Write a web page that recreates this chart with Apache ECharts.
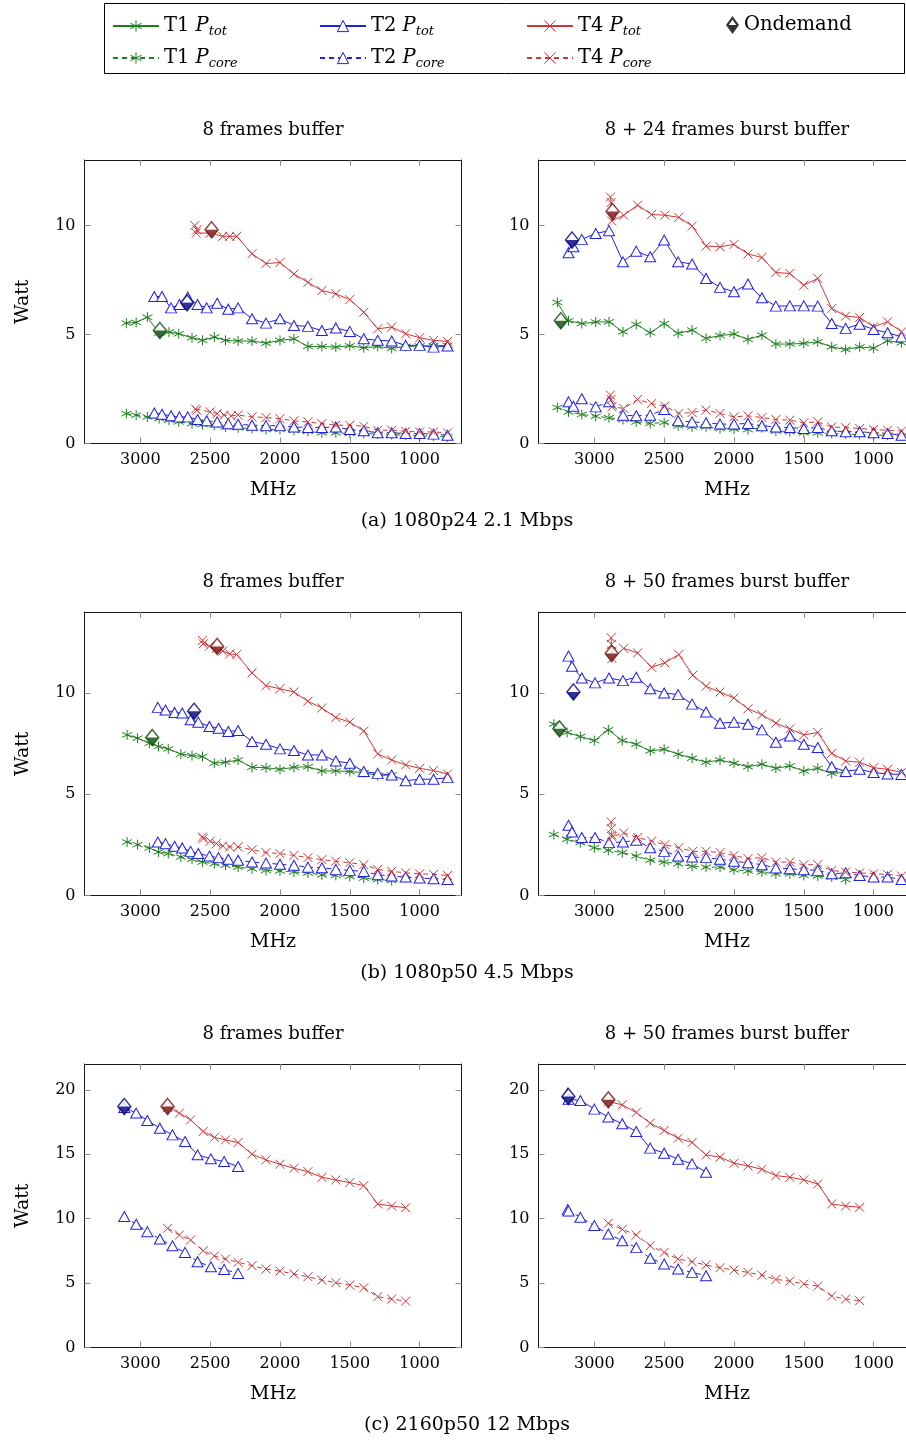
<!DOCTYPE html>
<html>
<head>
<meta charset="utf-8">
<script src="https://cdn.jsdelivr.net/npm/echarts@6/dist/echarts.min.js"></script>
<style>
  html, body { margin: 0; padding: 0; background: #fff; }
  #chart { width: 906px; height: 1441px; }
</style>
</head>
<body>
<div id="chart"></div>
<script>
// ---------- tick values ----------
const xTicks = [1000, 1500, 2000, 2500, 3000];
const yTicksA = [0, 5, 10];
const yTicksC = [0, 5, 10, 15, 20];

// ---------- (a) 1080p24 2.1 Mbps, 8 frames buffer ----------
const a1_t1Tot = [[3100,5.52],[3030,5.55],[2950,5.79],[2865,5.06],[2795,5.11],[2725,5.03],[2630,4.85],[2555,4.73],[2470,4.88],[2390,4.73],[2300,4.70],[2200,4.70],[2100,4.60],[2000,4.73],[1900,4.80],[1800,4.45],[1700,4.45],[1600,4.42],[1500,4.48],[1400,4.39],[1300,4.45],[1200,4.36],[1100,4.45],[1000,4.47],[900,4.48],[800,4.50]];
const a1_t1Core = [[3100,1.37],[3030,1.30],[2950,1.22],[2865,1.14],[2795,1.07],[2725,0.99],[2630,0.91],[2555,0.87],[2470,0.84],[2390,0.76],[2300,0.72],[2200,0.69],[2100,0.64],[2000,0.64],[1900,0.61],[1800,0.56],[1700,0.49],[1600,0.49],[1500,0.46],[1400,0.46],[1300,0.43],[1200,0.41],[1100,0.38],[1000,0.35],[900,0.34],[800,0.30]];
const a1_t2Tot = [[2900,6.74],[2845,6.74],[2780,6.22],[2720,6.37],[2660,6.71],[2590,6.37],[2525,6.22],[2450,6.43],[2370,6.16],[2300,6.22],[2200,5.72],[2100,5.52],[2000,5.72],[1900,5.41],[1800,5.37],[1700,5.18],[1600,5.30],[1500,5.14],[1400,4.80],[1300,4.73],[1200,4.70],[1100,4.50],[1000,4.50],[900,4.42],[800,4.47]];
const a1_t2Core = [[2900,1.40],[2845,1.34],[2780,1.27],[2720,1.22],[2660,1.22],[2590,1.10],[2525,1.04],[2450,0.99],[2370,0.91],[2300,0.88],[2200,0.84],[2100,0.82],[2000,0.82],[1900,0.76],[1800,0.73],[1700,0.73],[1600,0.76],[1500,0.64],[1400,0.58],[1300,0.49],[1200,0.49],[1100,0.46],[1000,0.46],[900,0.43],[800,0.38]];
const a1_t4Tot = [[2610,10.0],[2595,9.8],[2600,9.65],[2500,9.65],[2410,9.5],[2360,9.5],[2310,9.5],[2200,8.7],[2100,8.25],[2000,8.3],[1900,7.77],[1800,7.39],[1700,7.01],[1600,6.86],[1500,6.60],[1400,6.02],[1300,5.26],[1200,5.34],[1100,5.03],[1000,4.85],[900,4.73],[800,4.68]];
const a1_t4Core = [[2605,1.58],[2595,1.52],[2500,1.45],[2450,1.37],[2400,1.30],[2350,1.27],[2300,1.30],[2200,1.22],[2100,1.19],[2000,1.14],[1900,1.04],[1800,0.99],[1700,0.91],[1600,0.84],[1500,0.84],[1400,0.79],[1300,0.61],[1200,0.61],[1100,0.56],[1000,0.53],[900,0.53],[800,0.49]];
const a1_ondemand = { T1: [2860,5.18], T2: [2665,6.45], T4: [2490,9.8] };

// ---------- (a) 1080p24 2.1 Mbps, 8 + 24 frames burst buffer ----------
const a2_t1Tot = [[3265,6.47],[3185,5.63],[3090,5.50],[2990,5.57],[2895,5.58],[2795,5.12],[2700,5.46],[2600,5.08],[2500,5.50],[2400,5.05],[2300,5.20],[2200,4.82],[2100,4.95],[2000,5.02],[1900,4.77],[1800,4.97],[1700,4.56],[1600,4.56],[1500,4.59],[1400,4.66],[1300,4.43],[1200,4.31],[1100,4.43],[1000,4.37],[900,4.71],[800,4.62]];
const a2_t1Core = [[3265,1.65],[3185,1.45],[3090,1.33],[2990,1.25],[2895,1.18],[2795,1.10],[2700,0.99],[2600,0.92],[2500,0.96],[2400,0.81],[2300,0.76],[2200,0.76],[2100,0.69],[2000,0.66],[1900,0.64],[1800,0.73],[1700,0.57],[1600,0.54],[1500,0.49],[1400,0.49],[1300,0.46],[1200,0.43],[1100,0.41],[1000,0.38],[900,0.38],[800,0.34]];
const a2_t2Tot = [[3185,8.75],[3150,9.02],[3090,9.36],[2990,9.63],[2895,9.76],[2795,8.33],[2700,8.82],[2600,8.56],[2500,9.33],[2400,8.33],[2300,8.23],[2200,7.57],[2100,7.16],[2000,6.96],[1900,7.31],[1800,6.68],[1700,6.30],[1600,6.31],[1500,6.31],[1400,6.30],[1300,5.50],[1200,5.28],[1100,5.47],[1000,5.23],[900,5.08],[800,4.89]];
const a2_t2Core = [[3185,1.91],[3150,1.71],[3090,2.05],[2990,1.68],[2895,1.91],[2795,1.30],[2700,1.27],[2600,1.30],[2500,1.56],[2400,1.04],[2300,0.99],[2200,0.95],[2100,0.89],[2000,0.89],[1900,0.92],[1800,0.81],[1700,0.76],[1600,0.73],[1500,0.69],[1400,0.73],[1300,0.58],[1200,0.54],[1100,0.54],[1000,0.49],[900,0.46],[800,0.38]];
const a2_t4Tot = [[2885,11.3],[2880,11.05],[2875,10.2],[2790,10.47],[2690,10.93],[2590,10.50],[2495,10.47],[2395,10.37],[2300,9.97],[2200,9.05],[2100,9.02],[2000,9.13],[1900,8.69],[1800,8.53],[1700,7.84],[1600,7.80],[1500,7.26],[1400,7.57],[1300,6.19],[1200,5.84],[1100,5.78],[1000,5.35],[900,5.58],[800,5.12]];
const a2_t4Core = [[2885,2.22],[2880,2.02],[2875,1.68],[2790,1.61],[2690,2.02],[2590,1.83],[2495,1.71],[2395,1.38],[2300,1.42],[2200,1.53],[2100,1.38],[2000,1.22],[1900,1.27],[1800,1.19],[1700,1.10],[1600,1.07],[1500,0.95],[1400,0.99],[1300,0.76],[1200,0.73],[1100,0.69],[1000,0.64],[900,0.61],[800,0.57]];
const a2_ondemand = { T1: [3240,5.63], T2: [3160,9.33], T4: [2870,10.64] };

// ---------- (b) 1080p50 4.5 Mbps, 8 frames buffer ----------
const b1_t1Tot = [[3095,7.93],[3020,7.77],[2935,7.52],[2870,7.36],[2800,7.24],[2710,6.98],[2630,6.91],[2555,6.86],[2470,6.53],[2390,6.58],[2300,6.69],[2200,6.33],[2100,6.31],[2000,6.23],[1900,6.33],[1800,6.36],[1700,6.15],[1600,6.15],[1500,6.12],[1400,6.07],[1300,5.92],[1200,5.95]];
const b1_t1Core = [[3095,2.64],[3020,2.51],[2935,2.35],[2870,2.15],[2800,2.07],[2710,1.90],[2630,1.79],[2555,1.65],[2470,1.57],[2390,1.49],[2300,1.40],[2200,1.32],[2100,1.24],[2000,1.21],[1900,1.16],[1800,1.11],[1700,1.02],[1600,0.99],[1500,0.94],[1400,0.86],[1300,0.79],[1200,0.74]];
const b1_t2Tot = [[2875,9.29],[2820,9.16],[2755,9.04],[2700,9.01],[2640,8.68],[2585,8.56],[2505,8.35],[2440,8.26],[2370,8.10],[2300,8.15],[2200,7.60],[2100,7.47],[2000,7.24],[1900,7.16],[1800,6.94],[1700,6.94],[1600,6.64],[1500,6.53],[1400,6.12],[1300,6.03],[1200,5.95],[1100,5.67],[1000,5.74],[900,5.74],[800,5.82]];
const b1_t2Core = [[2875,2.64],[2820,2.56],[2755,2.43],[2700,2.35],[2640,2.18],[2585,2.07],[2505,1.95],[2440,1.87],[2370,1.79],[2300,1.74],[2200,1.65],[2100,1.60],[2000,1.54],[1900,1.49],[1800,1.40],[1700,1.37],[1600,1.29],[1500,1.24],[1400,1.19],[1300,1.02],[1200,0.96],[1100,0.91],[1000,0.86],[900,0.83],[800,0.79]];
const b1_t4Tot = [[2555,12.6],[2550,12.43],[2505,12.31],[2455,12.2],[2410,12.07],[2360,11.93],[2310,11.9],[2200,10.99],[2100,10.36],[2000,10.21],[1900,10.05],[1800,9.59],[1700,9.26],[1600,8.79],[1500,8.56],[1400,8.13],[1300,6.99],[1200,6.69],[1100,6.45],[1000,6.28],[900,6.17],[800,6.0]];
const b1_t4Core = [[2555,2.89],[2550,2.81],[2500,2.68],[2455,2.56],[2410,2.45],[2360,2.40],[2300,2.40],[2200,2.26],[2100,2.12],[2000,2.07],[1900,1.98],[1800,1.87],[1700,1.77],[1600,1.69],[1500,1.62],[1400,1.52],[1300,1.29],[1200,1.19],[1100,1.12],[1000,1.07],[900,1.04],[800,0.99]];
const b1_ondemand = { T1: [2915,7.8], T2: [2615,9.1], T4: [2450,12.3] };

// ---------- (b) 1080p50 4.5 Mbps, 8 + 50 frames burst buffer ----------
const b2_t1Tot = [[3290,8.46],[3195,8.05],[3100,7.85],[3000,7.65],[2900,8.18],[2800,7.65],[2700,7.47],[2600,7.14],[2500,7.22],[2400,6.98],[2300,6.78],[2200,6.58],[2100,6.69],[2000,6.53],[1900,6.36],[1800,6.48],[1700,6.28],[1600,6.40],[1500,6.15],[1400,6.28],[1300,6.03],[1200,6.08]];
const b2_t1Core = [[3290,3.01],[3195,2.78],[3100,2.61],[3000,2.36],[2900,2.23],[2800,2.12],[2700,1.95],[2600,1.74],[2500,1.65],[2400,1.57],[2300,1.44],[2200,1.40],[2100,1.40],[2000,1.27],[1900,1.21],[1800,1.16],[1700,1.07],[1600,1.07],[1500,0.99],[1400,0.96],[1300,0.91],[1200,0.79]];
const b2_t2Tot = [[3185,11.82],[3160,11.32],[3090,10.74],[2995,10.50],[2895,10.74],[2795,10.61],[2700,10.78],[2600,10.21],[2500,10.0],[2400,9.92],[2300,9.45],[2200,9.06],[2100,8.51],[2000,8.56],[1900,8.46],[1800,8.18],[1700,7.57],[1600,7.88],[1500,7.47],[1400,7.31],[1300,6.36],[1200,6.12],[1100,6.23],[1000,6.07],[900,6.0],[800,5.98]];
const b2_t2Core = [[3185,3.47],[3160,3.14],[3090,2.86],[2995,2.86],[2895,2.61],[2795,2.64],[2700,2.73],[2600,2.36],[2500,2.18],[2400,1.95],[2300,1.90],[2200,1.87],[2100,1.79],[2000,1.69],[1900,1.62],[1800,1.52],[1700,1.36],[1600,1.32],[1500,1.27],[1400,1.24],[1300,1.07],[1200,1.12],[1100,0.99],[1000,0.91],[900,0.91],[800,0.79]];
const b2_t4Tot = [[2880,12.73],[2878,12.4],[2876,12.07],[2874,11.7],[2790,12.2],[2690,11.98],[2590,11.27],[2495,11.49],[2395,11.90],[2295,10.88],[2200,10.33],[2100,10.05],[2000,9.75],[1900,9.22],[1800,8.93],[1700,8.51],[1600,8.23],[1500,7.93],[1400,8.05],[1300,7.02],[1200,6.64],[1100,6.58],[1000,6.31],[900,6.23],[800,6.08]];
const b2_t4Core = [[2880,3.64],[2878,3.30],[2876,3.0],[2874,2.9],[2790,3.09],[2690,2.86],[2590,2.69],[2495,2.51],[2395,2.36],[2295,2.18],[2200,2.18],[2100,2.12],[2000,1.98],[1900,1.82],[1800,1.87],[1700,1.65],[1600,1.65],[1500,1.52],[1400,1.52],[1300,1.24],[1200,1.16],[1100,1.12],[1000,1.07],[900,1.04],[800,0.96]];
const b2_ondemand = { T1: [3250,8.23], T2: [3150,10.05], T4: [2876,11.95] };

// ---------- (c) 2160p50 12 Mbps, 8 frames buffer ----------
const c1_t2Tot = [[3115,18.63],[3030,18.19],[2950,17.62],[2860,17.02],[2770,16.50],[2680,15.98],[2590,14.95],[2495,14.64],[2400,14.43],[2300,14.04]];
const c1_t2Core = [[3115,10.16],[3030,9.56],[2950,8.99],[2860,8.42],[2770,7.90],[2680,7.38],[2590,6.66],[2495,6.27],[2400,6.06],[2300,5.75]];
const c1_t4Tot = [[2805,18.63],[2720,18.19],[2640,17.67],[2550,16.76],[2470,16.30],[2390,16.11],[2300,15.91],[2200,15.0],[2100,14.56],[2000,14.22],[1900,13.91],[1800,13.65],[1700,13.21],[1600,13.0],[1500,12.80],[1400,12.56],[1300,11.14],[1200,10.98],[1100,10.85]];
const c1_t4Core = [[2805,9.25],[2720,8.73],[2640,8.34],[2550,7.51],[2470,7.10],[2390,6.87],[2300,6.61],[2200,6.35],[2100,6.09],[2000,5.93],[1900,5.70],[1800,5.49],[1700,5.23],[1600,5.03],[1500,4.84],[1400,4.64],[1300,3.94],[1200,3.76],[1100,3.60]];
const c1_ondemand = { T2: [3115,18.7], T4: [2805,18.7] };

// ---------- (c) 2160p50 12 Mbps, 8 + 50 frames burst buffer ----------
const c2_t2Tot = [[3190,19.74],[3185,19.27],[3100,19.17],[3000,18.50],[2900,17.88],[2800,17.36],[2700,16.76],[2600,15.47],[2500,15.08],[2400,14.61],[2300,14.25],[2200,13.60]];
const c2_t2Core = [[3190,10.7],[3185,10.6],[3100,10.10],[3000,9.46],[2900,8.81],[2800,8.29],[2700,7.75],[2600,6.92],[2500,6.48],[2400,6.09],[2300,5.83],[2200,5.57]];
const c2_t4Tot = [[2900,19.09],[2800,18.83],[2700,18.24],[2600,17.41],[2500,16.84],[2400,16.24],[2300,15.91],[2200,14.95],[2100,14.77],[2000,14.30],[1900,14.09],[1800,13.83],[1700,13.34],[1600,13.21],[1500,13.01],[1400,12.69],[1300,11.14],[1200,10.98],[1100,10.88]];
const c2_t4Core = [[2900,9.64],[2800,9.17],[2700,8.73],[2600,7.90],[2500,7.38],[2400,6.87],[2300,6.66],[2200,6.40],[2100,6.19],[2000,6.01],[1900,5.83],[1800,5.62],[1700,5.28],[1600,5.16],[1500,4.92],[1400,4.77],[1300,3.99],[1200,3.76],[1100,3.63]];
const c2_ondemand = { T2: [3186,19.48], T4: [2900,19.22] };

// ---------- panel definitions ----------
const panels = [
  { title: '8 frames buffer',            col: 0, row: 0, yMax: 13, yTicks: yTicksA,
    lines: { 'T1 Ptot': a1_t1Tot, 'T1 Pcore': a1_t1Core, 'T2 Ptot': a1_t2Tot, 'T2 Pcore': a1_t2Core, 'T4 Ptot': a1_t4Tot, 'T4 Pcore': a1_t4Core }, ondemand: a1_ondemand },
  { title: '8 + 24 frames burst buffer', col: 1, row: 0, yMax: 13, yTicks: yTicksA,
    lines: { 'T1 Ptot': a2_t1Tot, 'T1 Pcore': a2_t1Core, 'T2 Ptot': a2_t2Tot, 'T2 Pcore': a2_t2Core, 'T4 Ptot': a2_t4Tot, 'T4 Pcore': a2_t4Core }, ondemand: a2_ondemand },
  { title: '8 frames buffer',            col: 0, row: 1, yMax: 14, yTicks: yTicksA,
    lines: { 'T1 Ptot': b1_t1Tot, 'T1 Pcore': b1_t1Core, 'T2 Ptot': b1_t2Tot, 'T2 Pcore': b1_t2Core, 'T4 Ptot': b1_t4Tot, 'T4 Pcore': b1_t4Core }, ondemand: b1_ondemand },
  { title: '8 + 50 frames burst buffer', col: 1, row: 1, yMax: 14, yTicks: yTicksA,
    lines: { 'T1 Ptot': b2_t1Tot, 'T1 Pcore': b2_t1Core, 'T2 Ptot': b2_t2Tot, 'T2 Pcore': b2_t2Core, 'T4 Ptot': b2_t4Tot, 'T4 Pcore': b2_t4Core }, ondemand: b2_ondemand },
  { title: '8 frames buffer',            col: 0, row: 2, yMax: 22, yTicks: yTicksC,
    lines: { 'T2 Ptot': c1_t2Tot, 'T2 Pcore': c1_t2Core, 'T4 Ptot': c1_t4Tot, 'T4 Pcore': c1_t4Core }, ondemand: c1_ondemand },
  { title: '8 + 50 frames burst buffer', col: 1, row: 2, yMax: 22, yTicks: yTicksC,
    lines: { 'T2 Ptot': c2_t2Tot, 'T2 Pcore': c2_t2Core, 'T4 Ptot': c2_t4Tot, 'T4 Pcore': c2_t4Core }, ondemand: c2_ondemand }
];
const captions = ['(a) 1080p24 2.1 Mbps', '(b) 1080p50 4.5 Mbps', '(c) 2160p50 12 Mbps'];

// ---------- geometry & styles ----------
const FONT = 'DejaVu Serif';
const colLeft = [84.5, 538.5];
const rowTop = [160, 612, 1064];
const PW = 377, PH = 283.5;

const GREEN = '#1f7f1f', BLUE = '#2020e6', RED = '#cc3838';
const DARK = { T1: '#0a4a0a', T2: '#00007a', T4: '#761010' };
const ASTERISK = 'path://M5,0L5,10M0.67,2.5L9.33,7.5M0.67,7.5L9.33,2.5';
const CROSS = 'path://M0,0L10,10M0,10L10,0';
const HALF_DOWN = 'path://M0,0L2,0L1,1Z';
// diamond whose upper half is only an outline (inner triangle cut out)
const HALF_DIAMOND_ICON = 'path://M10,0L20,13L10,26L0,13ZM10,5.5L4.2,13L15.8,13Z';

const seriesStyle = {
  'T1 Ptot':  { color: GREEN, symbol: ASTERISK,   size: 10,      dashed: false },
  'T1 Pcore': { color: GREEN, symbol: ASTERISK,   size: 10,      dashed: true },
  'T2 Ptot':  { color: BLUE,  symbol: 'triangle', size: [11,10], dashed: false, hollow: true },
  'T2 Pcore': { color: BLUE,  symbol: 'triangle', size: [11,10], dashed: true,  hollow: true },
  'T4 Ptot':  { color: RED,   symbol: CROSS,      size: 9,       dashed: false },
  'T4 Pcore': { color: RED,   symbol: CROSS,      size: 9,       dashed: true }
};

const grid = [], xAxis = [], yAxis = [], series = [], graphic = [];

const axisLine = { show: true, onZero: false, lineStyle: { color: '#1a1a1a', width: 1 } };
const tickStyle = { color: '#8a8a8a', width: 1 };
const plainNumber = v => String(v);

panels.forEach((p, i) => {
  const left = colLeft[p.col], top = rowTop[p.row];
  grid.push({ left, top, width: PW, height: PH, outerBoundsMode: 'none', containLabel: false });

  const xBase = { gridIndex: i, type: 'value', min: 700, max: 3400, inverse: true, splitLine: { show: false }, axisLine };
  xAxis.push(Object.assign({}, xBase, {
    position: 'bottom',
    axisTick: { show: true, inside: true, length: 6, customValues: xTicks, lineStyle: tickStyle },
    axisLabel: { show: true, customValues: xTicks, formatter: plainNumber, margin: 8, color: '#000', fontFamily: FONT, fontSize: 16 },
    name: 'MHz', nameLocation: 'middle', nameGap: 37,
    nameTextStyle: { color: '#000', fontFamily: FONT, fontSize: 19 }
  }));
  xAxis.push(Object.assign({}, xBase, {
    position: 'top',
    axisTick: { show: true, inside: true, length: 6, customValues: xTicks, lineStyle: tickStyle },
    axisLabel: { show: false, customValues: xTicks }
  }));

  const yBase = { gridIndex: i, type: 'value', min: 0, max: p.yMax, splitLine: { show: false }, axisLine };
  yAxis.push(Object.assign({}, yBase, {
    position: 'left',
    axisTick: { show: true, inside: true, length: 6, customValues: p.yTicks, lineStyle: tickStyle },
    axisLabel: { show: true, customValues: p.yTicks, formatter: plainNumber, margin: 9, color: '#000', fontFamily: FONT, fontSize: 16 },
    name: p.col === 0 ? 'Watt' : '', nameLocation: 'middle', nameGap: 52, nameRotate: 90,
    nameTextStyle: { color: '#000', fontFamily: FONT, fontSize: 19 }
  }));
  yAxis.push(Object.assign({}, yBase, {
    position: 'right',
    axisTick: { show: true, inside: true, length: 6, customValues: p.yTicks, lineStyle: tickStyle },
    axisLabel: { show: false, customValues: p.yTicks }
  }));

  // measured lines
  Object.keys(p.lines).forEach(name => {
    const s = seriesStyle[name];
    series.push({
      type: 'line', name, data: p.lines[name],
      xAxisIndex: 2 * i, yAxisIndex: 2 * i,
      symbol: s.symbol, symbolSize: s.size, showAllSymbol: true,
      lineStyle: { color: s.color, width: 1, type: s.dashed ? [5, 4] : 'solid' },
      itemStyle: { color: s.hollow ? '#fff' : s.color, borderColor: s.color, borderWidth: 1 },
      emphasis: { disabled: true }, silent: true, z: 3
    });
  });

  // ondemand governor operating points: hollow top half, filled bottom half
  const keys = Object.keys(p.ondemand);
  series.push({
    type: 'scatter', name: 'Ondemand', xAxisIndex: 2 * i, yAxisIndex: 2 * i,
    symbol: 'diamond', symbolSize: [13, 16],
    data: keys.map(k => ({ value: p.ondemand[k], itemStyle: { color: '#fff', borderColor: DARK[k], borderWidth: 1.5 } })),
    emphasis: { disabled: true }, silent: true, z: 5
  });
  series.push({
    type: 'scatter', name: 'Ondemand', xAxisIndex: 2 * i, yAxisIndex: 2 * i,
    symbol: HALF_DOWN, symbolSize: [13, 8], symbolOffset: [0, 4],
    data: keys.map(k => ({ value: p.ondemand[k], itemStyle: { color: DARK[k] } })),
    emphasis: { disabled: true }, silent: true, z: 6
  });

  graphic.push({
    type: 'text', x: left + PW / 2, y: top - 30, silent: true,
    style: { text: p.title, fill: '#000', fontFamily: FONT, fontSize: 18, align: 'center', verticalAlign: 'middle' }
  });
});

captions.forEach((c, r) => {
  graphic.push({
    type: 'text', x: 467, y: rowTop[r] + PH + 78, silent: true,
    style: { text: c, fill: '#000', fontFamily: FONT, fontSize: 19, align: 'center', verticalAlign: 'middle' }
  });
});

// legend frame
graphic.push({
  type: 'rect', silent: true, shape: { x: 104.5, y: 3.5, width: 800, height: 70 },
  style: { fill: 'none', stroke: '#000', lineWidth: 1 }
});

const legendText = {
  color: '#000', fontFamily: FONT, fontSize: 19.5, width: 140, lineHeight: 24,
  rich: {
    i: { fontStyle: 'italic' },
    s: { fontStyle: 'italic', fontSize: 13, lineHeight: 14, verticalAlign: 'bottom' }
  }
};
const legendFormatter = name => {
  const parts = name.split(' ');
  return parts[0] + ' {i|P}{s|' + parts[1].slice(1) + '}';
};
const legendCommon = {
  orient: 'horizontal', itemWidth: 46, itemHeight: 14, itemGap: 15, padding: 0,
  selectedMode: false, formatter: legendFormatter, textStyle: legendText,
  itemStyle: { borderWidth: 1 }
};

const option = {
  backgroundColor: '#fff',
  animation: false,
  grid, xAxis, yAxis, series, graphic,
  legend: [
    Object.assign({}, legendCommon, { left: 112, top: 14, data: ['T1 Ptot', 'T2 Ptot', 'T4 Ptot'] }),
    Object.assign({}, legendCommon, { left: 112, top: 46, data: ['T1 Pcore', 'T2 Pcore', 'T4 Pcore'] }),
    {
      left: 726, top: 13, padding: 0, itemWidth: 13, itemHeight: 18, itemGap: 4, selectedMode: false,
      symbolKeepAspect: false,
      data: [{ name: 'Ondemand', icon: HALF_DIAMOND_ICON, itemStyle: { color: '#000', borderWidth: 0 } }],
      textStyle: { color: '#000', fontFamily: FONT, fontSize: 19.5, lineHeight: 24 }
    }
  ]
};

const chart = echarts.init(document.getElementById('chart'), null, { renderer: 'canvas', width: 906, height: 1441 });
chart.setOption(option);
</script>
</body>
</html>
